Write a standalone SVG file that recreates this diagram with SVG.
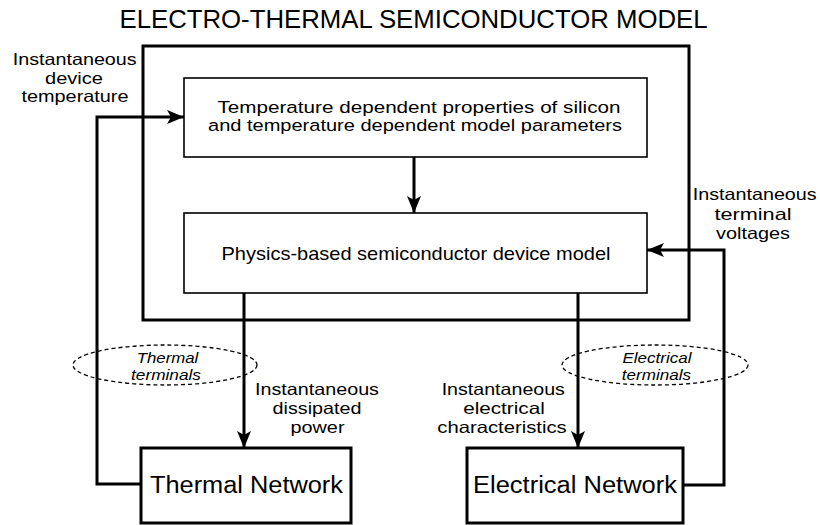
<svg xmlns="http://www.w3.org/2000/svg" width="820" height="525" viewBox="0 0 820 525">
<defs>
<style>
text{font-family:"Liberation Sans",Arial,sans-serif;fill:#000}
.t{font-size:25px;text-anchor:middle}
.lbl{font-size:16.5px;text-anchor:middle}
.box{font-size:18.5px;text-anchor:middle}
.box2{font-size:16.8px;text-anchor:middle}
.net{font-size:23px;text-anchor:middle}
.it{font-size:15px;font-style:italic;text-anchor:middle}
.thin{fill:#fff;stroke:#000;stroke-width:1.6}
.thick{fill:none;stroke:#000;stroke-width:3}
.conn{fill:none;stroke:#000;stroke-width:3}
.ell{fill:none;stroke:#000;stroke-width:1.3;stroke-dasharray:4,3}
</style>
<marker id="ah" markerUnits="userSpaceOnUse" markerWidth="20" markerHeight="16" refX="17" refY="7" orient="auto">
<path d="M0,0 L17,7 L0,14 L4,7 Z" fill="#000"/>
</marker>
</defs>
<rect width="820" height="525" fill="#fff"/>
<text class="t" x="413.5" y="28" textLength="588" lengthAdjust="spacingAndGlyphs">ELECTRO-THERMAL SEMICONDUCTOR MODEL</text>
<g id="outer"><rect class="thick" x="143" y="46" width="546" height="274"/></g>
<g id="props"><rect class="thin" x="184" y="78" width="463" height="79"/>
<text class="box2" x="419" y="112.5" textLength="403" lengthAdjust="spacingAndGlyphs">Temperature dependent properties of silicon</text>
<text class="box2" x="415" y="131.3" textLength="414" lengthAdjust="spacingAndGlyphs">and temperature dependent model parameters</text></g>
<g id="device"><rect class="thin" x="184" y="213" width="463" height="80"/>
<text class="box" x="416" y="260" textLength="389" lengthAdjust="spacingAndGlyphs">Physics-based semiconductor device model</text></g>
<g id="thermal"><rect class="thick" x="141" y="448" width="210" height="75"/>
<text class="net" x="246.5" y="493" textLength="193" lengthAdjust="spacingAndGlyphs">Thermal Network</text></g>
<g id="electrical"><rect class="thick" x="467" y="448" width="216" height="75"/>
<text class="net" x="575" y="493" textLength="204" lengthAdjust="spacingAndGlyphs">Electrical Network</text></g>
<g id="connectors">
<path class="conn" d="M141,484 H97 V117 H184" marker-end="url(#ah)"/>
<path class="conn" d="M414,157 V213" marker-end="url(#ah)"/>
<path class="conn" d="M244,293 V448" marker-end="url(#ah)"/>
<path class="conn" d="M578,293 V448" marker-end="url(#ah)"/>
<path class="conn" d="M683,485 H724 V250 H647" marker-end="url(#ah)"/>
</g>
<g id="labels">
<text class="lbl" x="74.7" y="65" textLength="124" lengthAdjust="spacingAndGlyphs">Instantaneous</text>
<text class="lbl" x="74" y="84" textLength="58" lengthAdjust="spacingAndGlyphs">device</text>
<text class="lbl" x="75" y="101.5" textLength="107" lengthAdjust="spacingAndGlyphs">temperature</text>
<text class="lbl" x="754.7" y="200" textLength="124" lengthAdjust="spacingAndGlyphs">Instantaneous</text>
<text class="lbl" x="753" y="220" textLength="77" lengthAdjust="spacingAndGlyphs">terminal</text>
<text class="lbl" x="753" y="239" textLength="74" lengthAdjust="spacingAndGlyphs">voltages</text>
<text class="lbl" x="317" y="395" textLength="124" lengthAdjust="spacingAndGlyphs">Instantaneous</text>
<text class="lbl" x="317" y="414" textLength="89" lengthAdjust="spacingAndGlyphs">dissipated</text>
<text class="lbl" x="317.5" y="433" textLength="54" lengthAdjust="spacingAndGlyphs">power</text>
<text class="lbl" x="503.3" y="395" textLength="123.3" lengthAdjust="spacingAndGlyphs">Instantaneous</text>
<text class="lbl" x="504" y="414" textLength="81.7" lengthAdjust="spacingAndGlyphs">electrical</text>
<text class="lbl" x="502" y="433.3" textLength="129.4" lengthAdjust="spacingAndGlyphs">characteristics</text>
</g>
<g id="thermal-terminals"><ellipse class="ell" cx="165" cy="365" rx="92" ry="20"/>
<text class="it" x="167.5" y="363" textLength="61.7" lengthAdjust="spacingAndGlyphs">Thermal</text>
<text class="it" x="166" y="380" textLength="70" lengthAdjust="spacingAndGlyphs">terminals</text></g>
<g id="electrical-terminals"><ellipse class="ell" cx="655" cy="365" rx="93" ry="20"/>
<text class="it" x="657" y="363" textLength="69" lengthAdjust="spacingAndGlyphs">Electrical</text>
<text class="it" x="656.4" y="380" textLength="69.3" lengthAdjust="spacingAndGlyphs">terminals</text></g>
</svg>
